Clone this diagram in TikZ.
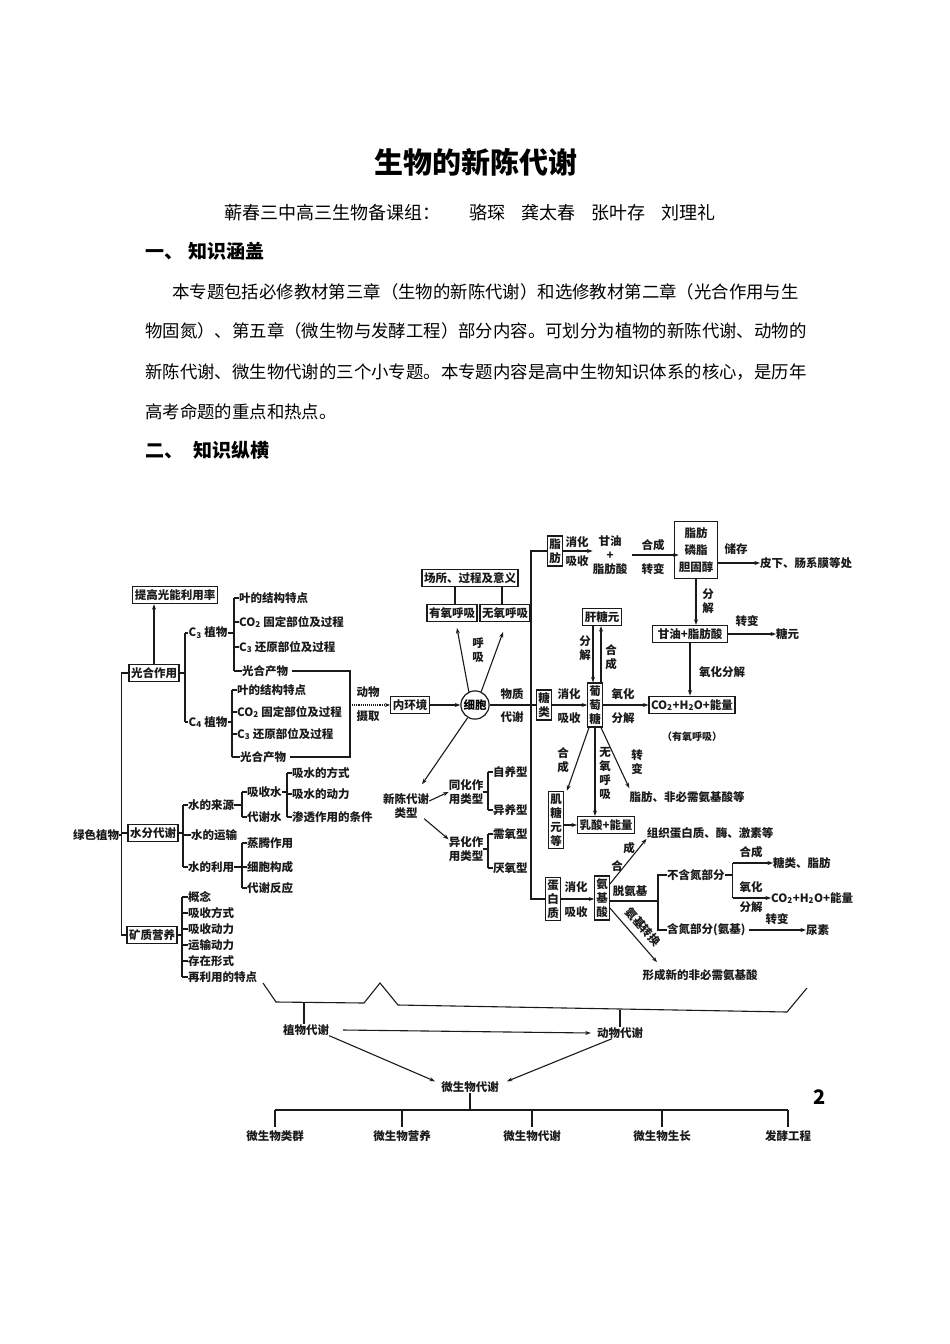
\documentclass[tikz,border=0pt]{standalone}
\usepackage{fontspec}
\setmainfont{Noto Sans CJK SC}
\usetikzlibrary{arrows.meta, positioning, calc}
\definecolor{inkblack}{HTML}{1A1A1A}
\newcommand\dfont{\fontsize{11.5pt}{14pt}\selectfont\bfseries}
\newcommand\sfont{\fontsize{10pt}{12pt}\selectfont\bfseries}
\newcommand\pfont{\fontsize{17.4pt}{20pt}\selectfont}
\newcommand\hfont{\fontsize{19pt}{21pt}\selectfont\bfseries}

\tikzset{
  box/.style={draw=inkblack, line width=1.2pt, inner xsep=2pt, inner ysep=3pt, font=\dfont, text=inkblack},
  vbox/.style={box, align=center, inner xsep=1.5pt, inner ysep=2.5pt},
  txt/.style={inner sep=0pt, font=\dfont, text=inkblack},
  vtxt/.style={txt, align=center},
  ln/.style={draw=inkblack, line width=1.1pt},
  arr/.style={ln, -{Stealth[length=5.5pt, width=4pt]}},
  para/.style={inner sep=0pt, font=\pfont, anchor=west},
}

\begin{document}
\begin{tikzpicture}[x=1pt, y=-1pt]
\useasboundingbox[fill=white] (0,0) rectangle (950,1344);

% header
\node[inner sep=0pt, font=\fontsize{29pt}{32pt}\selectfont\bfseries] (title) at (476,162) {生物的新陈代谢};
\node[inner sep=0pt, font=\fontsize{18pt}{20pt}\selectfont] (authors) at (470,213) {蕲春三中高三生物备课组：\hspace{1.6em}骆琛\hspace{0.9em}龚太春\hspace{0.9em}张叶存\hspace{0.9em}刘理礼};
\node[inner sep=0pt, font=\hfont, anchor=west] (h1) at (145,251) {一、\hspace{0.3em}知识涵盖};
\node[para] (p1) at (172,292) {本专题包括必修教材第三章（生物的新陈代谢）和选修教材第二章（光合作用与生};
\node[para] (p2) at (145,331) {物固氮）、第五章（微生物与发酵工程）部分内容。可划分为植物的新陈代谢、动物的};
\node[para] (p3) at (145,372) {新陈代谢、微生物代谢的三个小专题。本专题内容是高中生物知识体系的核心，是历年};
\node[para] (p4) at (145,412) {高考命题的重点和热点。};
\node[inner sep=0pt, font=\hfont, anchor=west] (h2) at (145,450) {二、\hspace{0.55em}知识纵横};

% green plants
\node[box] (tg) at (175,595) {提高光能利用率};
\node[box] (gh) at (154,673) {光合作用};
\node[box] (sf) at (153,833) {水分代谢};
\node[box] (kz) at (152,935) {矿质营养};
\node[txt] (lszw) at (96,835) {绿色植物};
\draw[arr] (gh.north) -- (gh.north |- tg.south);
\draw[ln] (gh.west) -- ++(-7,0) coordinate (tk) |- (kz.west);
\draw[ln] (sf.west) -- (sf.west -| tk);
\draw[ln] (lszw.east) -- (lszw.east -| tk);

\node[txt] (c3) at (208,633) {C\textsubscript{3} 植物};
\node[txt] (c4) at (208,722) {C\textsubscript{4} 植物};
\coordinate (k1) at (185,0);
\draw[ln] (c3.west -| k1) -- (c4.west -| k1);
\draw[ln] (gh.east) -- (gh.east -| k1);
\foreach \n in {c3,c4} \draw[ln] (\n.west) -- (\n.west -| k1);

\node[txt, anchor=west] (c3a) at (239,598) {叶的结构特点};
\node[txt, anchor=west] (c3b) at (239,622) {CO\textsubscript{2} 固定部位及过程};
\node[txt, anchor=west] (c3c) at (239,647) {C\textsubscript{3} 还原部位及过程};
\node[txt, anchor=west] (c3d) at (242,671) {光合产物};
\coordinate (k2) at (234,0);
\draw[ln] (c3a.west -| k2) -- (c3d.west -| k2);
\draw[ln] (c3.east) -- (c3.east -| k2);
\foreach \n in {c3a,c3b,c3c,c3d} \draw[ln] (\n.west) -- (\n.west -| k2);

\node[txt, anchor=west] (c4a) at (237,690) {叶的结构特点};
\node[txt, anchor=west] (c4b) at (237,712) {CO\textsubscript{2} 固定部位及过程};
\node[txt, anchor=west] (c4c) at (237,734) {C\textsubscript{3} 还原部位及过程};
\node[txt, anchor=west] (c4d) at (240,757) {光合产物};
\coordinate (k3) at (232,0);
\draw[ln] (c4a.west -| k3) -- (c4d.west -| k3);
\draw[ln] (c4.east) -- (c4.east -| k3);
\foreach \n in {c4a,c4b,c4c,c4d} \draw[ln] (\n.west) -- (\n.west -| k3);

% water
\node[txt, anchor=west] (sl) at (188,805) {水的来源};
\node[txt, anchor=west] (sy) at (191,835) {水的运输};
\node[txt, anchor=west] (sli) at (188,867) {水的利用};
\coordinate (k4) at (183,0);
\draw[ln] (sl.west -| k4) -- (sli.west -| k4);
\draw[ln] (sf.east) -- (sf.east -| k4);
\foreach \n in {sl,sy,sli} \draw[ln] (\n.west) -- (\n.west -| k4);

\node[txt, anchor=west] (xsw) at (247,792) {吸收水};
\node[txt, anchor=west] (dxs) at (247,817) {代谢水};
\coordinate (k5) at (242,0);
\draw[ln] (xsw.west -| k5) -- (dxs.west -| k5);
\draw[ln] (sl.east) -- (sl.east -| k5);
\foreach \n in {xsw,dxs} \draw[ln] (\n.west) -- (\n.west -| k5);

\node[txt, anchor=west] (xf) at (292,773) {吸水的方式};
\node[txt, anchor=west] (dl) at (292,794) {吸水的动力};
\node[txt, anchor=west] (st) at (292,817) {渗透作用的条件};
\coordinate (k6) at (287,0);
\draw[ln] (xf.west -| k6) -- (st.west -| k6);
\draw[ln] (xsw.east) -- (xsw.east -| k6);
\foreach \n in {xf,dl,st} \draw[ln] (\n.west) -- (\n.west -| k6);

\node[txt, anchor=west] (zt) at (247,843) {蒸腾作用};
\node[txt, anchor=west] (xbg) at (247,867) {细胞构成};
\node[txt, anchor=west] (dxf) at (247,888) {代谢反应};
\coordinate (k7) at (242,0);
\draw[ln] (zt.west -| k7) -- (dxf.west -| k7);
\draw[ln] (sli.east) -- (sli.east -| k7);
\foreach \n in {zt,xbg,dxf} \draw[ln] (\n.west) -- (\n.west -| k7);

% minerals
\foreach \t [count=\i] in {概念,吸收方式,吸收动力,运输动力,存在形式,再利用的特点}
  \node[txt, anchor=west] (kz\i) at (188,{881+16*\i}) {\t};
\coordinate (k8) at (182,0);
\draw[ln] (kz1.west -| k8) -- (kz6.west -| k8);
\draw[ln] (kz.east) -- (kz.east -| k8);
\foreach \i in {1,...,6} \draw[ln] (kz\i.west) -- (kz\i.west -| k8);

% animals take in
\draw[ln] ([xshift=4pt]c3d.east) -| (350,705) coordinate (dw) |- ([xshift=4pt]c4d.east);
\node[box] (nhj) at (410,705) {内环境};
\draw[arr, densely dotted] (dw) -- (nhj.west);
\node[txt] (dwl1) at (368,692) {动物};
\node[txt] (dwl2) at (368,716) {摄取};

% cell
\node[draw=inkblack, circle, line width=1.2pt, inner sep=1pt, font=\dfont] (xb) at (475,705) {细胞};
\draw[arr] (nhj.east) -- (xb.west);
\node[box] (cs) at (470,578) {场所、过程及意义};
\node[box] (yy) at (452,613) {有氧呼吸};
\node[box] (wy) at (505,613) {无氧呼吸};
\draw[ln] ([xshift=-15pt]cs.south) -- ([xshift=-15pt]cs.south |- yy.north);
\draw[ln] ([xshift=32pt]cs.south) -- ([xshift=32pt]cs.south |- wy.north);
\draw[arr] (xb.115) -- ([xshift=5pt, yshift=-6pt]yy.south);
\draw[arr] (xb.65) -- ([xshift=-2pt, yshift=-10pt]wy.south);
\node[vtxt] (hx) at (478,650) {呼\\吸};

\node[vtxt] (lx) at (406,806) {新陈代谢\\类型};
\draw[arr] (xb.240) -- ([xshift=16pt, yshift=9pt]lx.north);
\node[vtxt] (th) at (466,792) {同化作\\用类型};
\node[vtxt] (yh) at (466,849) {异化作\\用类型};
\draw[arr] ([yshift=5pt]lx.east) -- (th.west);
\draw[arr] ([xshift=-5pt]lx.south east) -- ([yshift=-3pt]yh.north west);

\node[txt, anchor=west] (zyx) at (493,772) {自养型};
\node[txt, anchor=west] (yyx) at (493,810) {异养型};
\node[txt, anchor=west] (xyx) at (493,834) {需氧型};
\node[txt, anchor=west] (ayx) at (493,868) {厌氧型};
\coordinate (k9) at (488,0);
\draw[ln] (zyx.west -| k9) -- (yyx.west -| k9);
\draw[ln] (xyx.west -| k9) -- (ayx.west -| k9);
\draw[ln] (th.east) -- (th.east -| k9);
\draw[ln] (yh.east) -- (yh.east -| k9);
\foreach \n in {zyx,yyx,xyx,ayx} \draw[ln] (\n.west) -- (\n.west -| k9);

% substance metabolism
\node[vbox] (zf) at (555,551) {脂\\肪};
\node[vbox] (tl) at (544,705) {糖\\类};
\node[vbox] (dbz) at (553,899) {蛋\\白\\质};
\draw[ln] (xb.east) -- (tl.west);
\draw[ln] (zf.west) -| (531,899) coordinate (tb) -- (dbz.west);
\node[txt] (wz) at (512,694) {物质};
\node[txt] (dx) at (512,717) {代谢};

% fat
\node[vtxt] (gy) at (610,555) {甘油\\+\\脂肪酸};
\draw[arr] (zf.east) -- (zf.east -| gy.west);
\node[txt] (xh1) at (577,542) {消化};
\node[txt] (xs1) at (577,561) {吸收};
\node[box, align=center, inner xsep=4.5pt, inner ysep=6pt] (zl) at (696,550) {脂肪\\[3pt]磷脂\\[3pt]胆固醇};
\draw[arr] ([xshift=5pt]gy.east) -- ([xshift=5pt]gy.east -| zl.west);
\node[txt] (hc1) at (653,545) {合成};
\node[txt] (zb1) at (653,569) {转变};
\node[txt, anchor=west] (px) at (760,563) {皮下、肠系膜等处};
\draw[arr] (zl.east |- px.west) -- (px.west);
\node[txt] (cc) at (736,549) {储存};
\node[box, inner xsep=5pt] (gz) at (690,634) {甘油+脂肪酸};
\draw[arr] (zl.south) -- (zl.south |- gz.north);
\node[vtxt] (fj1) at (708,601) {分\\解};
\node[txt, anchor=west] (ty) at (776,634) {糖元};
\draw[arr] (gz.east) -- (ty.west);
\node[txt] (zb2) at (747,621) {转变};
\node[box] (co1) at (692,705) {CO\textsubscript{2}+H\textsubscript{2}O+能量};
\draw[arr] (gz.south) -- (gz.south |- co1.north);
\node[txt] (yhfj) at (722,672) {氧化分解};
\node[txt, font=\sfont] (yyhx) at (692,737) {（有氧呼吸）};

% sugar
\node[box] (gty) at (602,617) {肝糖元};
\node[vbox] (ptt) at (595,705) {葡\\萄\\糖};
\draw[arr] ([xshift=-9pt]gty.south) -- ([xshift=-9pt]gty.south |- ptt.north);
\draw[arr] ([xshift=-1pt]gty.south |- ptt.north) -- ([xshift=-1pt]gty.south);
\node[vtxt] (fj2) at (585,648) {分\\解};
\node[vtxt] (hc2) at (611,657) {合\\成};
\draw[arr] (tl.east) -- (ptt.west);
\node[txt] (xh2) at (569,694) {消化};
\node[txt] (xs2) at (569,718) {吸收};
\draw[arr] (ptt.east) -- (co1.west);
\node[txt] (yh2) at (623,694) {氧化};
\node[txt] (fj3) at (623,718) {分解};
\node[vbox] (jty) at (556,820) {肌\\糖\\元\\等};
\node[box] (rs) at (606,825) {乳酸+能量};
\draw[arr] (jty.east |- rs.west) -- (rs.west);
\draw[arr] ([xshift=-6pt]ptt.south) -- ([xshift=11pt]jty.north);
\node[vtxt] (hc3) at (563,760) {合\\成};
\draw[arr] (ptt.south) -- (ptt.south |- rs.north);
\node[vtxt] (wyhx) at (605,773) {无\\氧\\呼\\吸};
\node[txt] (zfl) at (687,797) {脂肪、非必需氨基酸等};
\draw[arr] ([xshift=6pt]ptt.south) -- ([yshift=3pt]zfl.north west);
\node[vtxt] (zb3) at (637,762) {转\\变};

% protein
\node[vbox] (ajs) at (602,898) {氨\\基\\酸};
\draw[arr] (dbz.east) -- (dbz.east -| ajs.west);
\node[txt] (xh3) at (576,887) {消化};
\node[txt] (xs3) at (576,912) {吸收};
\node[txt] (zz) at (710,833) {组织蛋白质、酶、激素等};
\draw[arr] ([yshift=14pt]ajs.east) -- (zz.south west);
\node[txt] (he) at (617,866) {合};
\node[txt] (cheng) at (629,848) {成};
\node[txt, anchor=west] (bhd) at (667,875) {不含氮部分};
\node[txt, anchor=west] (hd) at (667,930) {含氮部分(氨基)};
\draw[ln] (bhd.west) -- ++(-9,0) coordinate (b5) |- (hd.west);
\draw[ln] ([yshift=-3pt]ajs.east) -- ([yshift=-3pt]ajs.east -| b5);
\node[txt] (tab) at (630,891) {脱氨基};
\draw[ln] (bhd.east) -- ++(8,0) coordinate (b6);
\node[txt, anchor=west] (tlzf) at (773,863) {糖类、脂肪};
\node[txt, anchor=west] (co2) at (771,898) {CO\textsubscript{2}+H\textsubscript{2}O+能量};
\draw[ln] (b6 |- tlzf.west) -- (b6 |- co2.west);
\draw[arr] (b6 |- tlzf.west) -- (tlzf.west);
\draw[arr] (b6 |- co2.west) -- (co2.west);
\node[txt] (hc4) at (751,852) {合成};
\node[txt] (yh4) at (751,887) {氧化};
\node[txt] (fj4) at (751,907) {分解};
\node[txt, anchor=west] (ns) at (806,930) {尿素};
\draw[arr] ([xshift=3pt]hd.east) -- (ns.west);
\node[txt] (zb4) at (777,919) {转变};
\node[txt] (xcx) at (700,975) {形成新的非必需氨基酸};
\draw[arr] ([yshift=-10pt]ajs.east) -- ([xshift=-43pt, yshift=7pt]xcx.north);
\node[txt, rotate=-49] (ajzh) at (643,927) {氨基转换};

% plants, animals, microbes
\draw[ln] (263,983) -- (276,1002) -- (364,1003) -- (380,983) -- (398,1005) -- (787,1012) -- (807,988);
\coordinate (bz1) at (304,1003);
\coordinate (bz2) at (620,1010);
\node[txt] (zwdx) at (306,1030) {植物代谢};
\node[txt] (dwdx) at (620,1033) {动物代谢};
\draw[ln] (bz1) -- (bz1 |- zwdx.north);
\draw[ln] (bz2) -- (bz2 |- dwdx.north);
\draw[arr] ([xshift=14pt]zwdx.east) -- ([xshift=-6pt]dwdx.west);
\node[txt] (wswdx) at (470,1087) {微生物代谢};
\draw[arr] (zwdx.south east) -- ([xshift=-6pt]wswdx.north west);
\draw[arr] ([xshift=-8pt]dwdx.south) -- ([xshift=8pt]wswdx.north east);
\foreach \x/\t [count=\i] in {275/微生物类群, 402/微生物营养, 532/微生物代谢, 662/微生物生长, 788/发酵工程}
  \node[txt] (wsw\i) at (\x,1136) {\t};
\coordinate (bb) at (0,1110);
\draw[ln] (wsw1.north |- bb) -- (wsw5.north |- bb);
\draw[ln] (wswdx.south) -- (wswdx.south |- bb);
\foreach \i in {1,...,5} \draw[ln] (wsw\i.north |- bb) -- ([yshift=3pt]wsw\i.north);
\node[inner sep=0pt, font=\fontsize{20pt}{20pt}\selectfont\bfseries] (pgno) at (820,1097) {2};
\end{tikzpicture}
\end{document}
